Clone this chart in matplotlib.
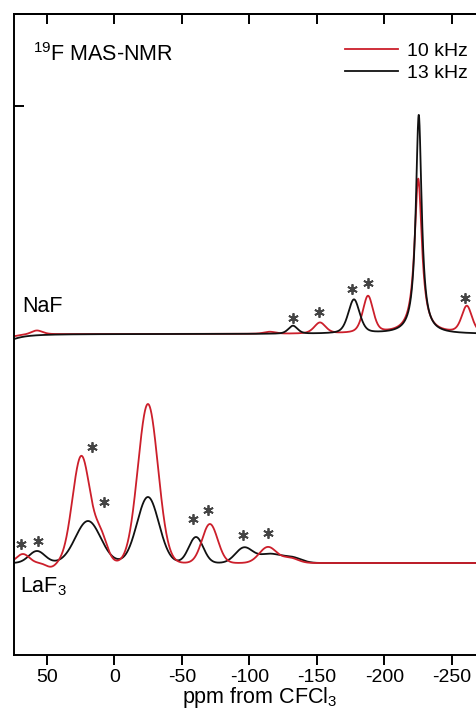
import numpy as np
import matplotlib
matplotlib.use('Agg')
import matplotlib.pyplot as plt

plt.rcParams['font.family'] = ['Liberation Sans', 'DejaVu Sans']
plt.rcParams['mathtext.fontset'] = 'custom'
plt.rcParams['mathtext.rm'] = 'Liberation Sans'
plt.rcParams['mathtext.it'] = 'Liberation Sans:italic'
plt.rcParams['mathtext.bf'] = 'Liberation Sans:bold'

# ---------------- data ----------------
x_ticks = [50, 0, -50, -100, -150, -200, -250]
series_labels = ['10 kHz', '13 kHz']
series_colors = ['#cc1f2b', '#111111']

# NaF peaks (ppm, height, FWHM, Lorentzian fraction)
naf_10_pos = [-225.0, -187.8, -152.2, -115.0, -261.0, 57.5, 84.0]
naf_10_h = [155, 37, 11, 2, 27, 4, -6]
naf_10_w = [6.5, 9.0, 10.0, 10.0, 9.0, 10.0, 16.0]
naf_10_eta = [1.0, 0.4, 0.4, 0.4, 0.4, 0.4, 1.0]
naf_13_pos = [-225.4, -177.4, -132.2, 84.0]
naf_13_h = [219, 34, 8, -9]
naf_13_w = [5.2, 10.0, 8.0, 22.0]
naf_13_eta = [1.0, 0.4, 0.4, 1.0]

# LaF3 peaks (ppm, height, FWHM) - Gaussian lines
laf_10_pos = [67.8, 47.0, 24.5, 10.0, -24.8, -70.7, -113.7, -130.0]
laf_10_h = [9, -4, 107, 25, 159, 39, 16, 5]
laf_10_w = [11.0, 9.0, 15.5, 11.0, 17.5, 13.5, 15.0, 14.0]
laf_13_pos = [57.4, 19.6, -24.8, -60.4, -95.9, -115.0, -132.0]
laf_13_h = [12, 42, 66, 26, 15, 9, 5]
laf_13_w = [14.0, 22.0, 19.0, 12.6, 15.0, 20.0, 16.0]

naf_offset = 321
laf_offset = 92

# spinning-sideband asterisks (ppm, intensity)
ast_ppm = [-132.2, -151.5, -175.9, -187.8, -259.6,
           69.3, 56.7, 16.7, 7.8, -58.1, -69.3, -95.2, -113.7]
ast_int = [337, 343, 366, 372, 357,
           111, 114, 208, 153, 136, 145, 120, 122]

left_tick = [549]


def pvoigt(x, pos, h, w, eta):
    y = np.zeros_like(x)
    for p, a, fw, e in zip(pos, h, w, eta):
        lor = 1 / (1 + ((x - p) / (fw / 2)) ** 2)
        gau = np.exp(-4 * np.log(2) * ((x - p) / fw) ** 2)
        y += a * (e * lor + (1 - e) * gau)
    return y


def gauss(x, pos, h, w):
    return pvoigt(x, pos, h, w, [0.0] * len(pos))


ppm = np.linspace(80, -280, 4000)

fig = plt.figure(figsize=(4.76, 7.10), dpi=100)
L, R, T, B = 14, 476, 14, 655
W, H = 476, 710
ax = fig.add_axes([L / W, 1 - B / H, (R - L) / W, (B - T) / H])

lw = 1.3
ax.plot(ppm, naf_offset + pvoigt(ppm, naf_10_pos, naf_10_h, naf_10_w, naf_10_eta),
        color=series_colors[0], lw=lw, label=series_labels[0])
ax.plot(ppm, naf_offset + pvoigt(ppm, naf_13_pos, naf_13_h, naf_13_w, naf_13_eta),
        color=series_colors[1], lw=lw, label=series_labels[1])
ax.plot(ppm, laf_offset + gauss(ppm, laf_13_pos, laf_13_h, laf_13_w),
        color=series_colors[1], lw=lw)
ax.plot(ppm, laf_offset + gauss(ppm, laf_10_pos, laf_10_h, laf_10_w),
        color=series_colors[0], lw=lw)

ax.plot(ast_ppm, ast_int, linestyle='none', marker=(6, 2, 0), ms=7.5,
        mew=1.3, color='#444444')

ax.set_xlim(74.4, -267.8)
ax.set_ylim(0, B - T)

ax.spines['right'].set_visible(False)
for s in ['left', 'top', 'bottom']:
    ax.spines[s].set_linewidth(1.4)

ax.set_xticks(x_ticks)
ax.set_xticklabels([str(t) for t in x_ticks])
ax.tick_params(axis='x', direction='out', length=7, width=1.4, pad=3,
               labelsize=14)
ax.set_yticks(left_tick)
ax.tick_params(axis='y', direction='in', length=7, width=1.4,
               labelleft=False)

sec = ax.secondary_xaxis('top')
sec.set_xticks(x_ticks)
sec.tick_params(direction='in', length=7, width=1.4, labeltop=False)
sec.spines['top'].set_linewidth(1.4)

ax.set_xlabel('ppm from CFCl$_3$', fontsize=15.5, va='baseline')
ax.xaxis.set_label_coords((260 - L) / (R - L), (B - 703) / (B - T))

ax.text((33 - L) / (R - L), 1 - (61 - T) / (B - T),
        r'$\mathregular{^{19}}$F MAS-NMR', transform=ax.transAxes,
        fontsize=15.5, va='baseline', ha='left')
ax.text((22 - L) / (R - L), 1 - (312 - T) / (B - T), 'NaF',
        transform=ax.transAxes, fontsize=15.5, va='baseline', ha='left')
ax.text((20 - L) / (R - L), 1 - (592 - T) / (B - T), 'LaF$_3$',
        transform=ax.transAxes, fontsize=15.5, va='baseline', ha='left')

ax.legend(loc='upper left', bbox_to_anchor=((345 - L) / (R - L), 1 - (42 - T) / (B - T)),
          frameon=False, fontsize=14, handlelength=2.7, handletextpad=0.5,
          labelspacing=0.25, borderpad=0, borderaxespad=0)

fig.savefig('out.png', dpi=100)
